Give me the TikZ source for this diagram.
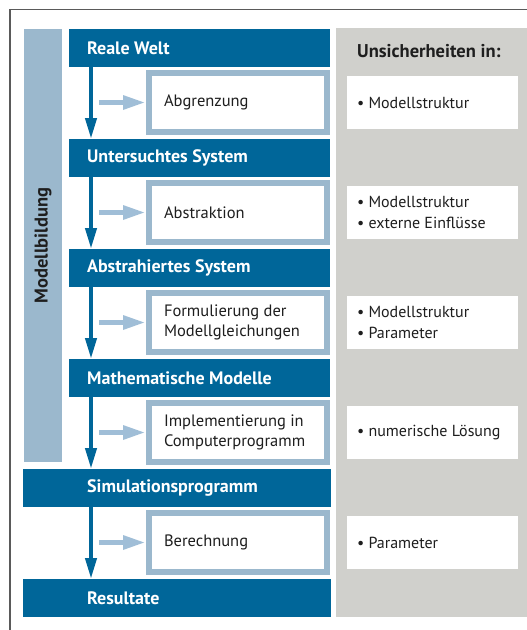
\documentclass[tikz,border=0pt]{standalone}
\usepackage{fontspec}
\setmainfont{PT Sans}
\usetikzlibrary{arrows.meta}
\definecolor{dunkelblau}{RGB}{0,102,153}
\definecolor{hellblau}{RGB}{155,184,205}
\definecolor{pfeilblau}{RGB}{160,190,215}
\definecolor{grau}{RGB}{208,208,204}
\definecolor{rahmen}{RGB}{90,90,90}
\definecolor{schrift}{RGB}{30,30,30}

\begin{document}
\begin{tikzpicture}[line join=miter,x=1pt,y=-1pt,
	phase/.style={rectangle,fill=dunkelblau,text=white,font=\bfseries\fontsize{18}{21}\selectfont,anchor=north west,minimum height=38pt,inner xsep=18pt,inner ysep=0pt,text width=225pt,align=flush left},
	langphase/.style={phase,inner xsep=0pt,text width=308pt},
	task/.style={rectangle,draw=hellblau,line width=6pt,fill=white,text=schrift,minimum width=178pt,minimum height=59pt,inner xsep=15pt,text width=148pt,align=flush left,font=\fontsize{16.5}{20}\selectfont},
	unsicher/.style={rectangle,fill=white,text=schrift,minimum width=171pt,minimum height=53pt,inner xsep=10pt,text width=151pt,align=flush left,font=\fontsize{16}{21}\selectfont},
	flow/.style={draw=dunkelblau,line width=4pt,-{Triangle[length=21pt,width=11pt]}},
	feed/.style={draw=pfeilblau,line width=5.5pt,-{Triangle[length=23pt,width=13pt]}}]
		\useasboundingbox (0,0) rectangle (527,630);
		\draw[color=rahmen,line width=1.5pt] (10,630)-- (10,9.5)-- (527,9.5);
		\fill[color=grau] (336,28) rectangle (527,617);
		\node[rectangle,fill=hellblau,text=schrift,rotate=90,minimum width=433pt,minimum height=38pt,inner sep=0pt,font=\bfseries\fontsize{18.5}{21}\selectfont] (mb) at (43,245.5) {Modellbildung};
		\node[anchor=base west,text=schrift,inner sep=0pt,font=\bfseries\fontsize{18.5}{21}\selectfont] (kopf) at (357,57) {Unsicherheiten in:};
		\node[phase] (b0) at (69,29) {Reale Welt};
		\node[phase] (b1) at (69,139) {Untersuchtes System};
		\node[phase] (b2) at (69,249) {Abstrahiertes System};
		\node[phase] (b3) at (69,359) {Mathematische Modelle};
		\node[langphase] (b4) at (23,469) {\hspace*{64pt}Simulationsprogramm};
		\node[langphase] (b5) at (23,579) {\hspace*{64pt}Resultate};
		\node[task] (s0) at (238,102.5) {Abgrenzung};
		\node[task] (s1) at (238,212.5) {Abstraktion};
		\node[task] (s2) at (238,322.5) {Formulierung der\\Modellgleichungen};
		\node[task] (s3) at (238,432.5) {Implementierung in\\Computerprogramm};
		\node[task] (s4) at (238,542.5) {Berechnung};
		\node[unsicher] (u0) at (432.5,102.5) {• Modellstruktur};
		\node[unsicher] (u1) at (432.5,212.5) {• Modellstruktur\\• externe Einflüsse};
		\node[unsicher] (u2) at (432.5,322.5) {• Modellstruktur\\• Parameter};
		\node[unsicher] (u3) at (432.5,432.5) {• numerische Lösung};
		\node[unsicher] (u4) at (432.5,542.5) {• Parameter};
		\coordinate (ax) at (91,0);
		\draw[flow] (b0.south -| ax)-- (b1.north -| ax);
		\draw[flow] (b1.south -| ax)-- (b2.north -| ax);
		\draw[flow] (b2.south -| ax)-- (b3.north -| ax);
		\draw[flow] (b3.south -| ax)-- (b4.north -| ax);
		\draw[flow] (b4.south -| ax)-- (b5.north -| ax);
		\coordinate (f0) at (99,102.5);
		\coordinate (f1) at (99,212.5);
		\coordinate (f2) at (99,322.5);
		\coordinate (f3) at (99,432.5);
		\coordinate (f4) at (99,542.5);
		\draw[feed] (f0)-- (s0.west);
		\draw[feed] (f1)-- (s1.west);
		\draw[feed] (f2)-- (s2.west);
		\draw[feed] (f3)-- (s3.west);
		\draw[feed] (f4)-- (s4.west);
\end{tikzpicture}
\end{document}
